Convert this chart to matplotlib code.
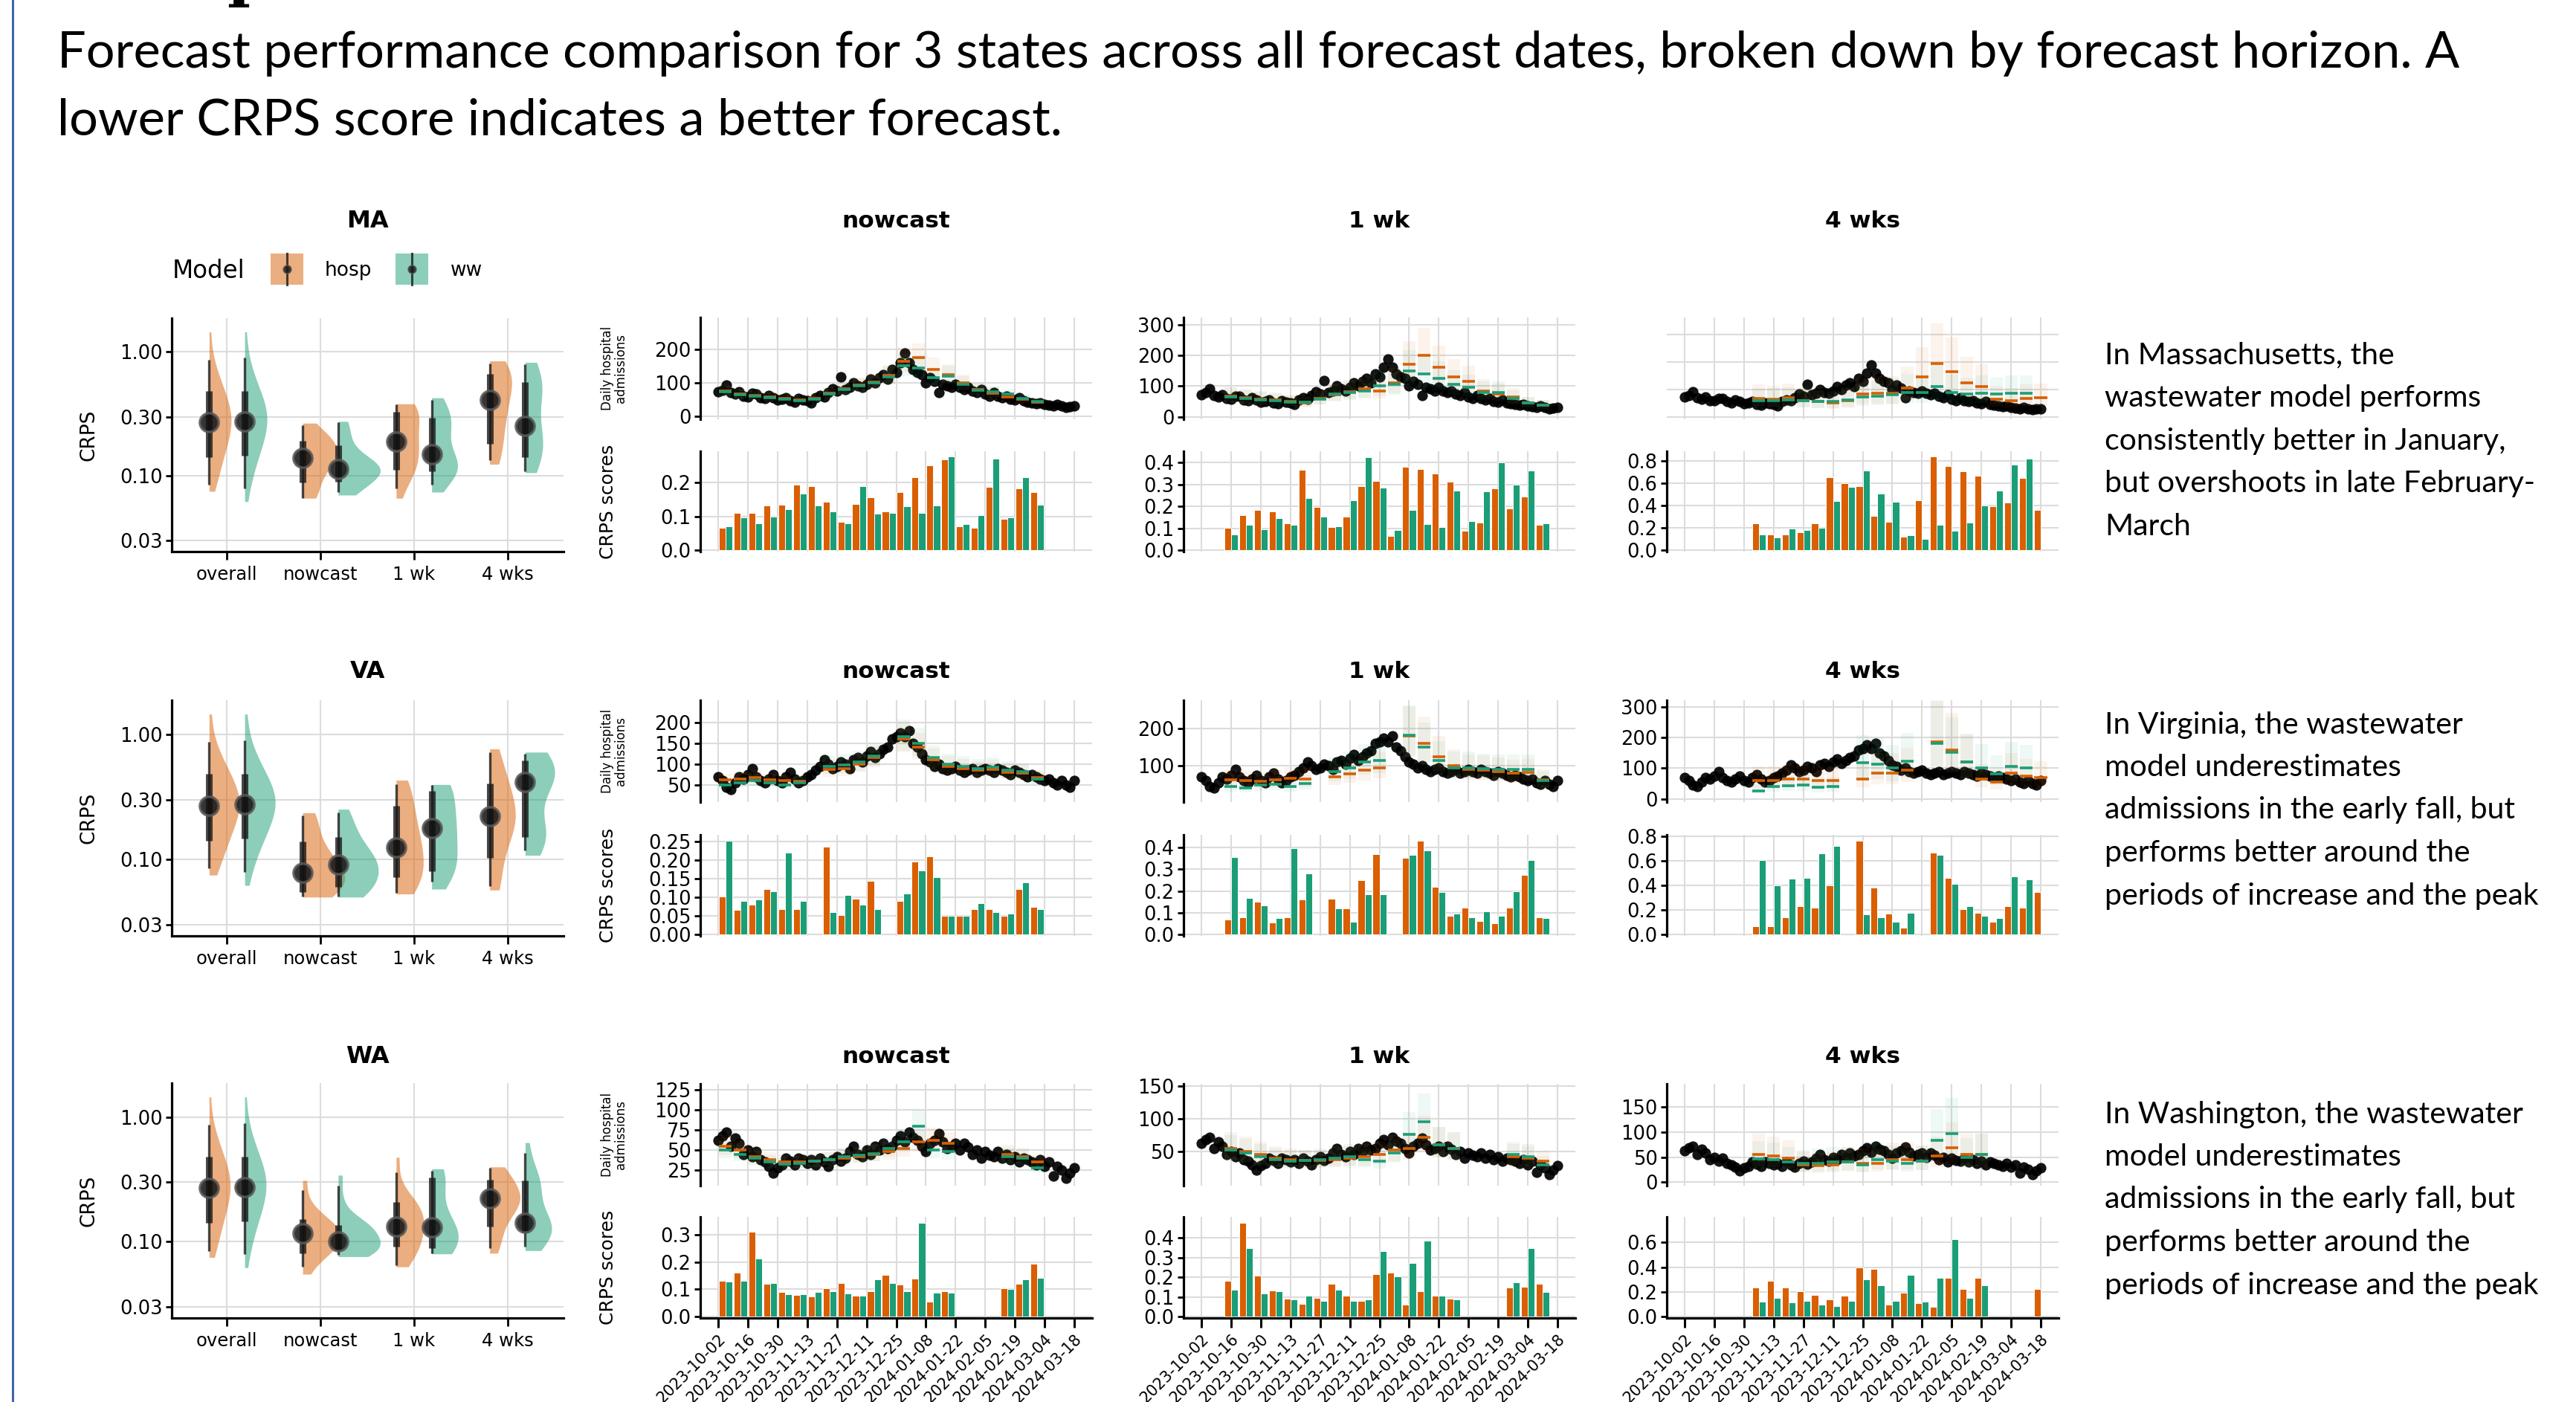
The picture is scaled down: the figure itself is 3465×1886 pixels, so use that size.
import numpy as np
import pandas as pd
import matplotlib
matplotlib.use("Agg")
import matplotlib.pyplot as plt
from matplotlib.patches import Rectangle

nan = np.nan

# ---------------------------------------------------------------- data
START = pd.Timestamp("2023-10-02")
STATES = ["MA", "VA", "WA"]
HORIZONS = ["nowcast", "1 wk", "4 wks"]
EYE_CATS = ["overall", "nowcast", "1 wk", "4 wks"]

# observed daily hospital admissions, every second day from 2023-10-02
OBS_MA = [72, 78, 92, 70, 65, 72, 60, 58, 68, 66,
          55, 52, 62, 55, 48, 50, 55, 45, 42, 52,
          48, 45, 40, 55, 62, 58, 70, 82, 75, 118,
          80, 85, 100, 90, 85, 95, 110, 100, 115, 125,
          110, 140, 130, 160, 188, 160, 140, 130, 125, 100,
          115, 105, 70, 95, 90, 85, 95, 85, 80, 85,
          75, 70, 80, 65, 60, 70, 60, 55, 60, 50,
          48, 55, 45, 42, 40, 38, 40, 35, 32, 30,
          35, 30, 25, 28, 30]
OBS_VA = [70, 60, 45, 40, 55, 70, 65, 75, 90, 70,
          60, 55, 65, 75, 60, 55, 70, 80, 65, 55,
          60, 70, 75, 85, 95, 110, 100, 90, 95, 105,
          100, 90, 110, 115, 105, 120, 130, 115, 125, 135,
          140, 160, 165, 175, 165, 180, 150, 140, 125, 110,
          105, 95, 100, 90, 85, 90, 95, 85, 80, 85,
          90, 80, 85, 90, 85, 80, 90, 85, 80, 75,
          85, 80, 75, 70, 75, 70, 65, 60, 65, 55,
          50, 60, 50, 45, 60]
OBS_WA = [62, 68, 72, 55, 65, 58, 45, 50, 42, 48,
          38, 35, 30, 22, 28, 32, 40, 36, 32, 40,
          38, 34, 38, 32, 40, 35, 30, 38, 42, 36,
          40, 48, 55, 45, 42, 50, 45, 55, 50, 58,
          52, 55, 62, 68, 60, 72, 66, 62, 55, 48,
          58, 62, 70, 60, 52, 55, 58, 50, 58, 54,
          45, 50, 40, 48, 44, 42, 48, 40, 45, 38,
          42, 35, 40, 38, 35, 32, 38, 30, 35, 18,
          30, 25, 15, 22, 28]

# CRPS per weekly forecast date (first forecast date 2023-10-02)
CRPS_MA_NOW_HOSP = [0.066, 0.110, 0.110, 0.132, 0.135, 0.193, 0.189, 0.143, 0.083, 0.137, 0.155,
                    0.115, 0.172, 0.214, 0.249, 0.266, 0.070, 0.066, 0.187, 0.092, 0.181, 0.171]
CRPS_MA_NOW_WW = [0.070, 0.097, 0.080, 0.099, 0.121, 0.166, 0.132, 0.115, 0.080, 0.189, 0.108,
                  0.111, 0.130, 0.111, 0.132, 0.275, 0.077, 0.104, 0.269, 0.097, 0.215, 0.133]
CRPS_MA_1WK_HOSP = [0.102, 0.161, 0.184, 0.176, 0.123, 0.368, 0.199, 0.108, 0.153, 0.294, 0.315,
                    0.066, 0.381, 0.372, 0.351, 0.313, 0.091, 0.127, 0.281, 0.192, 0.244, 0.116]
CRPS_MA_1WK_WW = [0.074, 0.116, 0.097, 0.148, 0.116, 0.239, 0.153, 0.111, 0.230, 0.426, 0.286,
                  0.094, 0.184, 0.119, 0.105, 0.273, 0.133, 0.269, 0.400, 0.301, 0.364, 0.122]
CRPS_MA_4WK_HOSP = [0.243, 0.146, 0.146, 0.165, 0.241, 0.658, 0.602, 0.575, 0.309, 0.257,
                    0.124, 0.451, 0.845, 0.759, 0.710, 0.669, 0.394, 0.428, 0.647, 0.365]
CRPS_MA_4WK_WW = [0.140, 0.113, 0.196, 0.180, 0.203, 0.444, 0.570, 0.714, 0.512, 0.433,
                  0.135, 0.106, 0.230, 0.176, 0.252, 0.406, 0.536, 0.771, 0.823, nan]

CRPS_VA_NOW_HOSP = [0.103, 0.066, 0.081, 0.123, 0.069, 0.069, nan, 0.236, 0.052, 0.096, 0.145,
                    nan, 0.091, 0.196, 0.210, 0.051, 0.051, 0.068, 0.069, 0.050, 0.123, 0.075]
CRPS_VA_NOW_WW = [0.252, 0.091, 0.095, 0.116, 0.221, 0.090, nan, 0.060, 0.107, 0.080, 0.068,
                  nan, 0.110, 0.173, 0.155, 0.051, 0.050, 0.085, 0.061, 0.056, 0.140, 0.068]
CRPS_VA_1WK_HOSP = [0.069, 0.081, 0.150, 0.055, 0.081, 0.162, nan, 0.164, 0.119, 0.251, 0.370,
                    nan, 0.353, 0.430, 0.219, 0.087, 0.124, 0.064, 0.053, 0.124, 0.273, 0.081]
CRPS_VA_1WK_WW = [0.357, 0.170, 0.133, 0.076, 0.397, 0.282, nan, 0.119, 0.058, 0.187, 0.185,
                  nan, 0.365, 0.385, 0.196, 0.096, 0.079, 0.107, 0.087, 0.198, 0.342, 0.076]
CRPS_VA_4WK_HOSP = [0.067, 0.067, 0.139, 0.231, 0.220, 0.400, nan, 0.765, 0.380, 0.169,
                    0.057, nan, 0.665, 0.461, 0.210, 0.180, 0.108, 0.231, 0.220, 0.349]
CRPS_VA_4WK_WW = [0.608, 0.400, 0.455, 0.459, 0.659, 0.720, nan, 0.163, 0.139, 0.108,
                  0.180, nan, 0.649, 0.414, 0.231, 0.155, 0.135, 0.471, 0.451, nan]

CRPS_WA_NOW_HOSP = [0.132, 0.162, 0.310, 0.121, 0.091, 0.080, 0.073, 0.105, 0.124, 0.077, 0.094,
                    0.153, 0.117, 0.139, 0.055, 0.094, nan, nan, nan, 0.103, 0.119, 0.194]
CRPS_WA_NOW_WW = [0.128, 0.132, 0.211, 0.124, 0.083, 0.082, 0.091, 0.094, 0.085, 0.076, 0.137,
                  0.124, 0.094, 0.342, 0.089, 0.089, nan, nan, nan, 0.100, 0.137, 0.141]
CRPS_WA_1WK_HOSP = [0.180, 0.475, 0.209, 0.133, 0.092, 0.067, 0.095, 0.165, 0.108, 0.080, 0.215,
                    0.222, 0.063, 0.130, 0.105, 0.092, nan, nan, nan, 0.149, 0.153, 0.168]
CRPS_WA_1WK_WW = [0.138, 0.346, 0.118, 0.130, 0.089, 0.108, 0.082, 0.137, 0.080, 0.089, 0.333,
                  0.206, 0.272, 0.384, 0.105, 0.089, nan, nan, nan, 0.176, 0.349, 0.124]
CRPS_WA_4WK_HOSP = [0.238, 0.293, 0.238, 0.208, 0.178, 0.141, 0.172, 0.398, 0.388, 0.101,
                    0.192, 0.111, 0.081, 0.313, 0.222, 0.313, nan, nan, nan, 0.222]
CRPS_WA_4WK_WW = [0.121, 0.152, 0.115, 0.131, 0.101, 0.085, 0.127, 0.303, 0.257, 0.131,
                  0.339, 0.121, 0.317, 0.624, 0.152, 0.253, nan, nan, nan, nan]

# pooled CRPS over all states and horizons (the "overall" column of every state)
CRPS_OVERALL_HOSP = [0.075, 0.085, 0.095, 0.105, 0.115, 0.125, 0.135, 0.145, 0.155, 0.165,
                     0.175, 0.185, 0.195, 0.205, 0.215, 0.225, 0.235, 0.245, 0.255, 0.265,
                     0.275, 0.285, 0.295, 0.305, 0.32, 0.335, 0.35, 0.365, 0.38, 0.40,
                     0.42, 0.44, 0.47, 0.50, 0.54, 0.58, 0.64, 0.72, 0.85, 1.45]
CRPS_OVERALL_WW = [0.062, 0.08, 0.095, 0.108, 0.12, 0.13, 0.14, 0.15, 0.16, 0.17,
                   0.18, 0.19, 0.20, 0.21, 0.22, 0.23, 0.24, 0.25, 0.26, 0.27,
                   0.28, 0.29, 0.30, 0.31, 0.325, 0.34, 0.355, 0.37, 0.385, 0.40,
                   0.42, 0.44, 0.47, 0.50, 0.54, 0.59, 0.65, 0.74, 0.88, 1.45]

# median forecast of daily admissions for each target week
MED_MA_NOW_HOSP = [75, 66, 62, 57, 52, 49, 52, 68, 82, 92, 102, 122, 165, 175, 140, 125, 100, 80, 68, 58, 50, 42]
MED_MA_NOW_WW = [72, 64, 60, 55, 50, 46, 50, 66, 80, 90, 100, 118, 150, 145, 115, 120, 95, 78, 72, 65, 52, 43]
MED_MA_1WK_HOSP = [68, 62, 58, 54, 50, 45, 60, 72, 82, 90, 85, 110, 170, 200, 160, 130, 115, 85, 75, 65, 45, 38]
MED_MA_1WK_WW = [65, 60, 56, 52, 48, 48, 58, 75, 80, 85, 100, 105, 150, 140, 125, 105, 95, 80, 80, 60, 45, 38]
MED_MA_4WK_HOSP = [68, 65, 70, 60, 55, 50, 60, 82, 85, 85, 105, 145, 195, 165, 125, 110, 65, 60, 68, 70]
MED_MA_4WK_WW = [58, 60, 62, 60, 55, 55, 62, 72, 75, 80, 90, 88, 110, 88, 82, 87, 82, 87, 87, nan]

MED_VA_NOW_HOSP = [62, 65, 68, 62, 60, 58, nan, 88, 90, 100, 115, nan, 160, 140, 110, 95, 90, 85, 88, 80, 78, 68]
MED_VA_NOW_WW = [50, 55, 60, 55, 50, 55, nan, 95, 98, 105, 120, nan, 165, 150, 115, 100, 95, 90, 92, 85, 82, 65]
MED_VA_1WK_HOSP = [62, 60, 58, 62, 66, 65, nan, 70, 78, 88, 95, nan, 180, 160, 125, 100, 90, 88, 85, 80, 82, 62]
MED_VA_1WK_WW = [45, 40, 48, 50, 45, 52, nan, 85, 95, 110, 115, nan, 182, 150, 115, 95, 95, 92, 90, 90, 90, 60]
MED_VA_4WK_HOSP = [60, 60, 65, 65, 60, 60, nan, 65, 85, 85, 95, nan, 185, 160, 120, 65, 55, 85, 75, 70]
MED_VA_4WK_WW = [27, 40, 44, 45, 38, 40, nan, 118, 114, 100, 122, nan, 182, 151, 121, 102, 81, 106, 100, nan]

MED_WA_NOW_HOSP = [55, 50, 42, 38, 35, 35, 36, 38, 40, 42, 45, 48, 52, 60, 62, 58, nan, nan, nan, 45, 42, 35]
MED_WA_NOW_WW = [50, 45, 40, 35, 33, 34, 36, 38, 42, 44, 46, 52, 60, 80, 50, 48, nan, nan, nan, 42, 40, 28]
MED_WA_1WK_HOSP = [55, 50, 45, 40, 38, 36, 36, 38, 40, 42, 45, 52, 55, 72, 60, 55, nan, nan, nan, 42, 40, 35]
MED_WA_1WK_WW = [52, 48, 42, 38, 35, 36, 38, 40, 42, 38, 35, 48, 76, 95, 60, 55, nan, nan, nan, 45, 42, 30]
MED_WA_4WK_HOSP = [55, 52, 48, 35, 33, 35, 40, 38, 38, 45, 45, 42, 52, 68, 55, 55, nan, nan, nan, nan]
MED_WA_4WK_WW = [47, 45, 40, 37, 38, 40, 40, 34, 45, 42, 37, 42, 83, 96, 50, 55, nan, nan, nan, nan]

# days from forecast date to centre of the target week, and 90% band factor
HORIZON_SHIFT = {"nowcast": 3.5, "1 wk": 14.0, "4 wks": 35.0}
BAND_FACTOR = {"nowcast": 1.25, "1 wk": 1.45, "4 wks": 1.75}

OBS = {"MA": OBS_MA, "VA": OBS_VA, "WA": OBS_WA}
CRPS = {
    ("MA", "nowcast"): (CRPS_MA_NOW_HOSP, CRPS_MA_NOW_WW),
    ("MA", "1 wk"): (CRPS_MA_1WK_HOSP, CRPS_MA_1WK_WW),
    ("MA", "4 wks"): (CRPS_MA_4WK_HOSP, CRPS_MA_4WK_WW),
    ("VA", "nowcast"): (CRPS_VA_NOW_HOSP, CRPS_VA_NOW_WW),
    ("VA", "1 wk"): (CRPS_VA_1WK_HOSP, CRPS_VA_1WK_WW),
    ("VA", "4 wks"): (CRPS_VA_4WK_HOSP, CRPS_VA_4WK_WW),
    ("WA", "nowcast"): (CRPS_WA_NOW_HOSP, CRPS_WA_NOW_WW),
    ("WA", "1 wk"): (CRPS_WA_1WK_HOSP, CRPS_WA_1WK_WW),
    ("WA", "4 wks"): (CRPS_WA_4WK_HOSP, CRPS_WA_4WK_WW),
}
MED = {
    ("MA", "nowcast"): (MED_MA_NOW_HOSP, MED_MA_NOW_WW),
    ("MA", "1 wk"): (MED_MA_1WK_HOSP, MED_MA_1WK_WW),
    ("MA", "4 wks"): (MED_MA_4WK_HOSP, MED_MA_4WK_WW),
    ("VA", "nowcast"): (MED_VA_NOW_HOSP, MED_VA_NOW_WW),
    ("VA", "1 wk"): (MED_VA_1WK_HOSP, MED_VA_1WK_WW),
    ("VA", "4 wks"): (MED_VA_4WK_HOSP, MED_VA_4WK_WW),
    ("WA", "nowcast"): (MED_WA_NOW_HOSP, MED_WA_NOW_WW),
    ("WA", "1 wk"): (MED_WA_1WK_HOSP, MED_WA_1WK_WW),
    ("WA", "4 wks"): (MED_WA_4WK_HOSP, MED_WA_4WK_WW),
}

TITLE_LINES = [
    "Forecast performance comparison for 3 states across all forecast dates, broken down by forecast horizon. A",
    "lower CRPS score indicates a better forecast.",
]
NOTES = {
    "MA": ["In Massachusetts, the", "wastewater model performs", "consistently better in January,",
           "but overshoots in late February-", "March"],
    "VA": ["In Virginia, the wastewater", "model underestimates", "admissions in the early fall, but",
           "performs better around the", "periods of increase and the peak"],
    "WA": ["In Washington, the wastewater", "model underestimates", "admissions in the early fall, but",
           "performs better around the", "periods of increase and the peak"],
}

# ---------------------------------------------------------------- style / layout
W, H = 3465, 1886
HOSP_C, WW_C = "#D95F02", "#1B9E77"
GRID_C = "#DCDCDC"
INK = "#1a1a1a"
TICK_FS = 18.5

COLS = {"eye": (231, 758), "nowcast": (942, 1469), "1 wk": (1592, 2119), "4 wks": (2242, 2769)}
ROWS = {
    "MA": dict(title=298, eye=(428, 742), ts=(427, 564), bars=(607, 742), note=478),
    "VA": dict(title=904, eye=(942, 1259), ts=(942, 1079), bars=(1123, 1259), note=975),
    "WA": dict(title=1422, eye=(1457, 1773), ts=(1458, 1595), bars=(1637, 1773), note=1499),
}
TS_YLIM = {
    ("MA", "nowcast"): (-10, 296), ("MA", "1 wk"): (-8, 323), ("MA", "4 wks"): (-9, 363),
    ("VA", "nowcast"): (9, 253), ("VA", "1 wk"): (2, 277), ("VA", "4 wks"): (-10, 321),
    ("WA", "nowcast"): (6, 132), ("WA", "1 wk"): (-2, 153), ("WA", "4 wks"): (-7, 196),
}
TS_TICKS = {
    ("MA", "nowcast"): [0, 100, 200], ("MA", "1 wk"): [0, 100, 200, 300], ("MA", "4 wks"): [0, 100, 200, 300],
    ("VA", "nowcast"): [50, 100, 150, 200], ("VA", "1 wk"): [100, 200], ("VA", "4 wks"): [0, 100, 200, 300],
    ("WA", "nowcast"): [25, 50, 75, 100, 125], ("WA", "1 wk"): [50, 100, 150], ("WA", "4 wks"): [0, 50, 100, 150],
}
BAR_YTOP = {
    ("MA", "nowcast"): 0.291, ("MA", "1 wk"): 0.452, ("MA", "4 wks"): 0.89,
    ("VA", "nowcast"): 0.268, ("VA", "1 wk"): 0.458, ("VA", "4 wks"): 0.812,
    ("WA", "nowcast"): 0.364, ("WA", "1 wk"): 0.505, ("WA", "4 wks"): 0.806,
}
BAR_TICKS = {
    ("MA", "nowcast"): [0, 0.1, 0.2], ("MA", "1 wk"): [0, 0.1, 0.2, 0.3, 0.4],
    ("MA", "4 wks"): [0, 0.2, 0.4, 0.6, 0.8],
    ("VA", "nowcast"): [0, 0.05, 0.10, 0.15, 0.20, 0.25], ("VA", "1 wk"): [0, 0.1, 0.2, 0.3, 0.4],
    ("VA", "4 wks"): [0, 0.2, 0.4, 0.6, 0.8],
    ("WA", "nowcast"): [0, 0.1, 0.2, 0.3], ("WA", "1 wk"): [0, 0.1, 0.2, 0.3, 0.4],
    ("WA", "4 wks"): [0, 0.2, 0.4, 0.6],
}

TICK_DATES = pd.date_range(START, "2024-03-18", freq="14D")
TICK_DAYS = (TICK_DATES - START).days.values
XLIM = (-8.4, 176.4)

plt.rcParams["font.family"] = "DejaVu Sans"
fig = plt.figure(figsize=(W / 100, H / 100), dpi=100)

ov = fig.add_axes([0, 0, 1, 1])
ov.set_xlim(0, W)
ov.set_ylim(H, 0)
ov.axis("off")


def px_axes(x0, x1, y0, y1):
    return fig.add_axes([x0 / W, 1 - y1 / H, (x1 - x0) / W, (y1 - y0) / H])


def base_style(ax, left=True, bottom=False):
    for sp in ax.spines.values():
        sp.set_visible(False)
    if left:
        ax.spines["left"].set_visible(True)
        ax.spines["left"].set_linewidth(2.3)
    if bottom:
        ax.spines["bottom"].set_visible(True)
        ax.spines["bottom"].set_linewidth(2.3)
    ax.grid(True, color=GRID_C, lw=1.5)
    ax.set_axisbelow(True)
    ax.tick_params(axis="y", length=6, width=2.0, labelsize=TICK_FS, pad=3, left=left, labelleft=left)
    ax.tick_params(axis="x", length=0, labelbottom=False)


def clean(vals):
    v = np.asarray(vals, float)
    return v[~np.isnan(v)]


def draw_eye(ax, state):
    groups = []
    for i, cat in enumerate(EYE_CATS):
        for j, (col, side) in enumerate(((HOSP_C, -1), (WW_C, 1))):
            if cat == "overall":
                vals = clean((CRPS_OVERALL_HOSP, CRPS_OVERALL_WW)[j])
            else:
                vals = clean(CRPS[(state, cat)][j])
            groups.append((i + 1 + side * 0.19, vals, col))
    dens = []
    for _, vals, _ in groups:
        lv = np.log10(vals)
        grid = np.linspace(lv.min(), lv.max(), 240)
        bw = 1.06 * lv.std(ddof=1) * len(lv) ** -0.2
        d = np.exp(-0.5 * ((grid[:, None] - lv[None, :]) / bw) ** 2).sum(1)
        dens.append((grid, d / (len(lv) * bw * np.sqrt(2 * np.pi))))
    dmax = max(d.max() for _, d in dens)
    for (x, vals, col), (grid, d) in zip(groups, dens):
        ax.fill_betweenx(10 ** grid, x, x + 0.45 * d / dmax, color=col, alpha=0.5, lw=0, zorder=2)
        q = np.quantile(vals, [0.025, 0.17, 0.5, 0.83, 0.975])
        ax.plot([x, x], [q[0], q[4]], color=INK, lw=2.4, alpha=0.8, solid_capstyle="butt", zorder=3)
        ax.plot([x, x], [q[1], q[3]], color=INK, lw=6.5, alpha=0.8, solid_capstyle="butt", zorder=3)
        ax.scatter([x], [q[2]], s=330, color="#111111", alpha=0.85,
                   edgecolor="#5a5a5a", linewidth=2.5, zorder=4)

    base_style(ax, left=True, bottom=True)
    ax.set_yscale("log")
    ax.set_ylim(0.0245, 1.87)
    ax.set_xlim(0.41, 4.6)
    ax.set_yticks([0.03, 0.1, 0.3, 1.0])
    ax.set_yticklabels(["0.03", "0.10", "0.30", "1.00"])
    ax.yaxis.set_minor_locator(matplotlib.ticker.NullLocator())
    ax.set_xticks(range(1, 5))
    ax.set_xticklabels(EYE_CATS)
    ax.tick_params(axis="x", length=8, width=2.0, labelsize=TICK_FS - 1, labelbottom=True, pad=6)


def draw_ts(ax, state, hz):
    obs = np.asarray(OBS[state], float)
    days = (pd.date_range(START, periods=len(obs), freq="2D") - START).days.values
    ax.scatter(days, obs, s=105, color="black", alpha=0.92, lw=0, zorder=2)
    f = BAND_FACTOR[hz]
    for med, col in zip(MED[(state, hz)], (HOSP_C, WW_C)):
        centres = np.arange(len(med)) * 7 + HORIZON_SHIFT[hz]
        for c, m in zip(centres, med):
            if np.isnan(m):
                continue
            seg = [c - 3, c + 3]
            ax.fill_between(seg, m / f, m * f, color=col, alpha=0.07, lw=0, zorder=3)
            ax.plot(seg, [m, m], color=col, lw=2.6, solid_capstyle="butt", zorder=4)
    show_axis = (state, hz) != ("MA", "4 wks")
    base_style(ax, left=show_axis)
    ax.set_xlim(*XLIM)
    ax.set_xticks(TICK_DAYS)
    ax.set_ylim(*TS_YLIM[(state, hz)])
    ax.set_yticks(TS_TICKS[(state, hz)])


def draw_bars(ax, state, hz, bottom_row):
    hosp, ww = (np.asarray(v, float) for v in CRPS[(state, hz)])
    centres = np.arange(len(hosp)) * 7 + HORIZON_SHIFT[hz]
    for vals, col, dx in ((hosp, HOSP_C, -1.6), (ww, WW_C, 1.6)):
        ok = ~np.isnan(vals)
        ax.bar(centres[ok] + dx, vals[ok], width=3.2, color=col, edgecolor="white", lw=0.7, zorder=2)
    base_style(ax, left=True, bottom=bottom_row)
    ax.set_xlim(*XLIM)
    ax.set_xticks(TICK_DAYS)
    top = BAR_YTOP[(state, hz)]
    ax.set_ylim(-0.012 * top, top)
    ticks = BAR_TICKS[(state, hz)]
    ax.set_yticks(ticks)
    fmt = "{:.2f}" if (state, hz) == ("VA", "nowcast") else "{:.1f}"
    ax.set_yticklabels([fmt.format(t) for t in ticks])
    if bottom_row:
        ax.set_xticklabels([d.strftime("%Y-%m-%d") for d in TICK_DATES], rotation=45,
                           ha="right", rotation_mode="anchor")
        ax.tick_params(axis="x", length=9, width=2.2, labelsize=15, labelbottom=True, pad=4)


for state in STATES:
    row = ROWS[state]
    ax = px_axes(*COLS["eye"], *row["eye"])
    draw_eye(ax, state)
    ov.text(sum(COLS["eye"]) / 2, row["title"], state, ha="center", va="center",
            fontsize=23, fontweight="bold")
    ov.text(119, sum(row["eye"]) / 2, "CRPS", rotation=90, ha="center", va="center", fontsize=19)
    for hz in HORIZONS:
        x0, x1 = COLS[hz]
        ov.text((x0 + x1) / 2, row["title"], hz, ha="center", va="center", fontsize=22.5, fontweight="bold")
        draw_ts(px_axes(x0, x1, *row["ts"]), state, hz)
        draw_bars(px_axes(x0, x1, *row["bars"]), state, hz, bottom_row=(state == "WA"))
    ov.text(826, sum(row["ts"]) / 2, "Daily hospital\nadmissions", rotation=90, ha="center",
            va="center", fontsize=12, linespacing=0.95)
    ov.text(818, sum(row["bars"]) / 2, "CRPS scores", rotation=90, ha="center", va="center", fontsize=18)
    for i, line in enumerate(NOTES[state]):
        ov.text(2831, row["note"] + i * 57.5, line, ha="left", va="center", fontsize=29.5, family="Lato")

# legend above the MA panel
ov.text(232, 364, "Model", ha="left", va="center", fontsize=23.5)
for x0, col, label, lx in ((364, HOSP_C, "hosp", 437), (532, WW_C, "ww", 606)):
    ov.add_patch(Rectangle((x0, 341), 44, 42, color=col, alpha=0.5, lw=0))
    ov.plot([x0 + 22, x0 + 22], [341, 383], color=INK, lw=2.2, alpha=0.8)
    ov.scatter([x0 + 22], [362], s=60, color=INK, alpha=0.85, edgecolor="#5a5a5a", lw=1.2, zorder=5)
    ov.text(lx, 364, label, ha="left", va="center", fontsize=19)

# slide text
ov.text(305, -7, "p", ha="left", va="baseline", fontsize=60, family="DejaVu Serif", fontweight="bold")
for i, line in enumerate(TITLE_LINES):
    ov.text(77, 91 + i * 90, line, ha="left", va="baseline", fontsize=49.3, family="Lato")
ov.plot([17, 17], [0, H], color="#4068A8", lw=2.2)

fig.savefig("out.png", dpi=100)
